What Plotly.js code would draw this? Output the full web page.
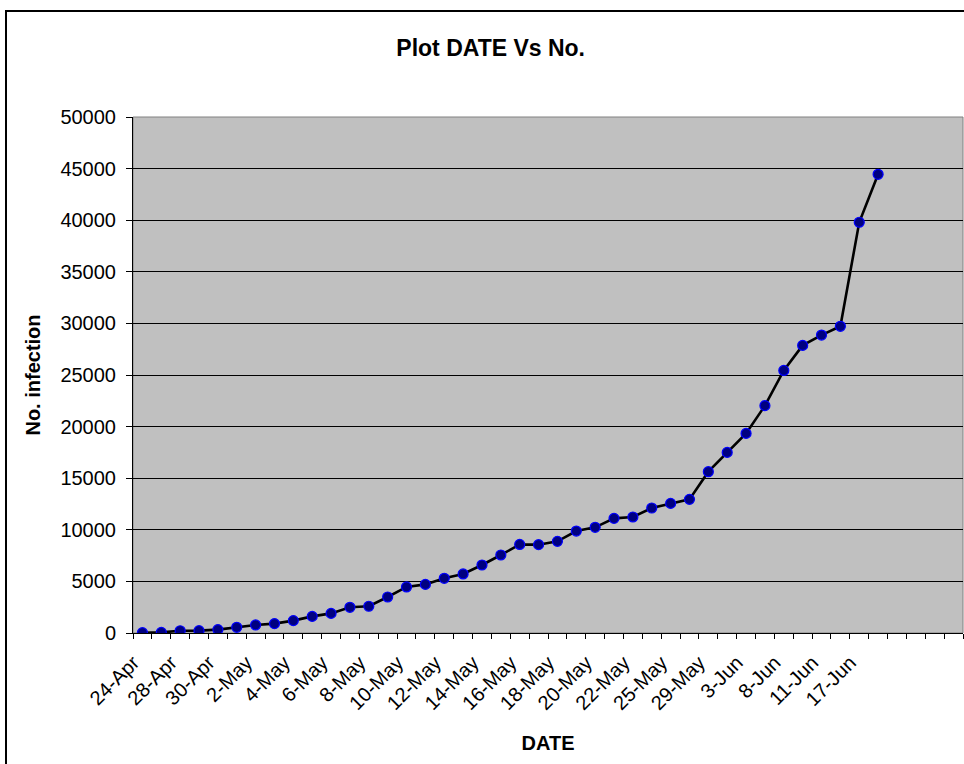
<!DOCTYPE html>
<html>
<head>
<meta charset="utf-8">
<script src="https://cdn.plot.ly/plotly-3.0.1.min.js"></script>
<style>
  html, body { margin: 0; padding: 0; background: #ffffff; overflow: hidden; }
  #wrap { position: relative; width: 964px; height: 764px; }
  #chart { position: absolute; left: 0; top: 0; width: 964px; height: 764px; }
  #frame { position: absolute; left: 5px; top: 10px; width: 1000px; height: 800px;
           border: 2px solid #000; box-sizing: border-box; pointer-events: none; }
</style>
</head>
<body>
<div id="wrap">
  <div id="chart"></div>
  <div id="frame"></div>
</div>
<script>
// Shown category labels (every other category on the axis)
const tickLabels = ["24-Apr", "28-Apr", "30-Apr", "2-May", "4-May", "6-May", "8-May",
  "10-May", "12-May", "14-May", "16-May", "18-May", "20-May", "22-May", "25-May",
  "29-May", "3-Jun", "8-Jun", "11-Jun", "17-Jun"];

// No. of infections per reporting date (40 dates)
const infections = [30, 60, 220, 230, 330, 550, 780, 910, 1200, 1610,
  1900, 2490, 2590, 3490, 4460, 4710, 5300, 5720, 6590, 7560,
  8580, 8560, 8880, 9880, 10240, 11110, 11240, 12110, 12560, 12950,
  15630, 17500, 19340, 22030, 25440, 27870, 28870, 29720, 39800, 44450];

// Total category slots on the axis (last four empty)
const categoryCount = 44;

const xPos = infections.map((_, i) => i);
const tickPos = tickLabels.map((_, i) => i * 2);

const font = "Liberation Sans, Arial, sans-serif";

const trace = {
  x: xPos,
  y: infections,
  type: "scatter",
  mode: "lines+markers",
  line: { color: "#000000", width: 2.6 },
  marker: { color: "#000080", size: 10, line: { color: "#0000ff", width: 1.2 } },
  hoverinfo: "y"
};

const layout = {
  width: 964,
  height: 764,
  paper_bgcolor: "rgba(0,0,0,0)",
  plot_bgcolor: "#c0c0c0",
  margin: { l: 133, r: 1, t: 117, b: 131, pad: 0 },
  showlegend: false,
  title: {
    text: "<b>Plot DATE Vs No.</b>",
    font: { family: font, size: 23, color: "#000" },
    x: 0.509, xref: "container", xanchor: "center",
    y: 1 - 48 / 764, yref: "container", yanchor: "middle"
  },
  xaxis: {
    range: [-0.5, categoryCount - 0.5],
    tickmode: "array",
    tickvals: tickPos,
    ticktext: tickLabels,
    tickangle: -45,
    ticks: "",
    ticklabelshift: -9,
    ticklabelstandoff: 9,
    tickfont: { family: font, size: 20, color: "#000" },
    showgrid: false,
    zeroline: false,
    showline: true, linecolor: "#000", linewidth: 1,
    minor: { tickmode: "linear", tick0: -0.5, dtick: 1, ticks: "outside", ticklen: 5, tickcolor: "#000", tickwidth: 1, showgrid: false },
    title: { text: "<b>DATE</b>", font: { family: font, size: 20, color: "#000" }, standoff: 22 },
    fixedrange: true
  },
  yaxis: {
    range: [0, 50000],
    tickmode: "linear", tick0: 0, dtick: 5000,
    tickformat: "d",
    ticks: "outside", ticklen: 6, tickcolor: "#000", tickwidth: 1,
    tickfont: { family: font, size: 20, color: "#000" },
    ticklabelstandoff: 6,
    showgrid: true, gridcolor: "#000", gridwidth: 1,
    zeroline: false,
    showline: true, linecolor: "#000", linewidth: 1,
    title: { text: "<b>No. infection</b>", font: { family: font, size: 20, color: "#000" }, standoff: 14 },
    fixedrange: true
  },
  shapes: [{
    type: "rect", xref: "paper", yref: "paper", x0: 0, x1: 1, y0: 0, y1: 1,
    line: { color: "#808080", width: 1 }, layer: "below"
  }]
};

Plotly.newPlot("chart", [trace], layout, { displayModeBar: false, staticPlot: true });
</script>
</body>
</html>
